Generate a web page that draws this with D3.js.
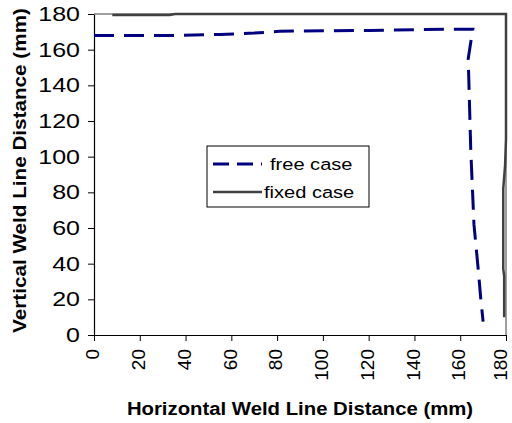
<!DOCTYPE html>
<html>
<head>
<meta charset="utf-8">
<script src="https://cdn.jsdelivr.net/npm/d3@7"></script>
<style>
  body { margin: 0; background: #fff; }
  svg { font-family: "Liberation Sans", Arial, sans-serif; }
</style>
</head>
<body>
<div id="chart"></div>
<script>
// free case (dashed navy)
var freeX = [0, 20, 35, 55, 70, 81, 100, 120, 140, 160, 165.5, 163.5, 164.6, 166, 168, 169, 170];
var freeY = [168, 168, 168, 168.5, 169.3, 170.3, 170.6, 170.8, 171.2, 171.5, 171.5, 155, 104, 62, 35, 20, 7.5];
// fixed case (solid dark gray)
var fixedX = [8, 33, 35.5, 60, 100, 140, 180, 180, 179.6, 178.8, 178.8, 179.2, 179.2];
var fixedY = [179.5, 179.5, 180, 180, 180, 180, 180, 110, 95, 82, 37, 33, 10];
var xTicks = [0, 20, 40, 60, 80, 100, 120, 140, 160, 180];
var yTicks = [0, 20, 40, 60, 80, 100, 120, 140, 160, 180];

var margin = {top: 14, right: 6, bottom: 88, left: 94},
    width = 512 - margin.left - margin.right,
    height = 423 - margin.top - margin.bottom;

// text in the original is a bit wide, stretch it
var sx = 1.25;

var svg = d3.select("#chart")
  .append("svg")
    .attr("width", 512)
    .attr("height", 423)
  .append("g")
    .attr("transform", "translate(" + margin.left + "," + margin.top + ")");

var x = d3.scaleLinear().domain([0, 180]).range([0, width]);
var y = d3.scaleLinear().domain([0, 180]).range([height, 0]);

// plot frame (top + right)
svg.append("path")
  .attr("d", "M0,0H" + width + "V" + height)
  .attr("fill", "none")
  .attr("stroke", "#808080")
  .attr("stroke-width", 1.5);

//X AXIS
var xAxis = svg.append("g")
  .attr("transform", "translate(0," + height + ")")
  .call(d3.axisBottom(x).tickValues(xTicks).tickSize(6).tickSizeOuter(0));
xAxis.selectAll("text")
  .attr("transform", "rotate(-90)")
  .attr("x", -14)
  .attr("y", 0)
  .attr("dy", function(d) { return d == 180 ? "0.02em" : "0.25em"; })
  .style("text-anchor", "end")
  .style("font-size", "19px");

//Y AXIS
var yAxis = svg.append("g")
  .call(d3.axisLeft(y).tickValues(yTicks).tickSize(6).tickSizeOuter(0));
yAxis.selectAll("text")
  .attr("x", -14 / sx)
  .attr("transform", "scale(" + sx + ",1)")
  .style("font-size", "20px");

svg.selectAll(".domain").attr("stroke", "#000").attr("stroke-width", 1.2);
svg.selectAll(".tick line").attr("stroke", "#000");
svg.selectAll(".tick text").attr("fill", "#000").style("font-family", "'Liberation Sans', Arial, sans-serif");

var line = d3.line()
  .x(function(d) { return x(d[0]); })
  .y(function(d) { return y(d[1]); });

svg.append("path")
  .datum(d3.zip(fixedX, fixedY))
  .attr("fill", "none")
  .attr("stroke", "#404040")
  .attr("stroke-width", 2.5)
  .attr("d", line);

svg.append("path")
  .datum(d3.zip(freeX, freeY))
  .attr("fill", "none")
  .attr("stroke", "#000080")
  .attr("stroke-width", 3)
  .attr("stroke-dasharray", "20,10")
  .attr("d", line);

// titles
svg.append("text")
  .attr("transform", "translate(" + (width / 2) + ",401) scale(1.13,1)")
  .attr("text-anchor", "middle")
  .style("font-weight", "bold")
  .style("font-size", "18px")
  .text("Horizontal Weld Line Distance (mm)");

svg.append("text")
  .attr("transform", "translate(-68," + (height / 2 - 4) + ") rotate(-90) scale(1.15,1)")
  .attr("text-anchor", "middle")
  .style("font-weight", "bold")
  .style("font-size", "18px")
  .text("Vertical Weld Line Distance (mm)");

// legend
var legend = svg.append("g").attr("transform", "translate(113,132)");
legend.append("rect")
  .attr("width", 162).attr("height", 61)
  .attr("fill", "#fff").attr("stroke", "#000").attr("stroke-width", 1);
var items = [
  {name: "free case", color: "#000080", dash: "16,8", w: 3},
  {name: "fixed case", color: "#404040", dash: null, w: 2.5}
];
items.forEach(function(it, i) {
  var yy = 18 + i * 28;
  legend.append("line")
    .attr("x1", 6).attr("x2", 55).attr("y1", yy).attr("y2", yy)
    .attr("stroke", it.color).attr("stroke-width", it.w)
    .attr("stroke-dasharray", it.dash);
  legend.append("text")
    .attr("transform", "translate(" + (i == 0 ? 63 : 57) + "," + yy + ") scale(1.18,1)")
    .attr("dy", "0.35em")
    .style("font-size", "17px")
    .text(it.name);
});
</script>
</body>
</html>
